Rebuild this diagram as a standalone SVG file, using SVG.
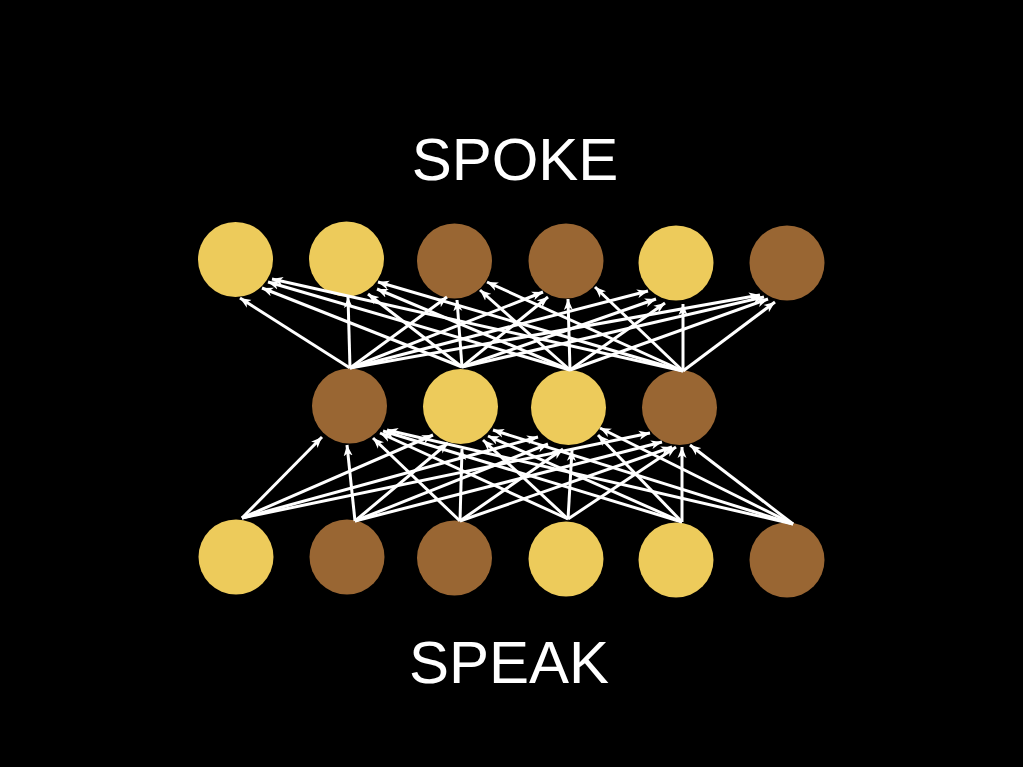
<svg xmlns="http://www.w3.org/2000/svg" width="1023" height="767" viewBox="0 0 1023 767">
<style>
.y{fill:#EDCB5B}
.b{fill:#996633}
.c line{stroke:#FFFFFF;stroke-width:3;marker-end:url(#ah)}
.t{font-family:"Liberation Sans",Arial,sans-serif;font-size:60px;fill:#FFFFFF;text-anchor:middle}
</style>
<defs>
<marker id="ah" markerUnits="userSpaceOnUse" markerWidth="12" markerHeight="10" refX="11" refY="4.5" orient="auto" viewBox="0 0 12 9">
<path d="M0,0 L11,4.5 L0,9 L3,4.5 Z" fill="#FFFFFF"/>
</marker>
</defs>
<rect width="1023" height="767" fill="#000000"/>
<text class="t" x="515" y="180">SPOKE</text>
<text class="t" x="509" y="683">SPEAK</text>
<g id="top-nodes">
<circle id="t1" class="y" cx="235.5" cy="259.5" r="37.5"/>
<circle id="t2" class="y" cx="346.5" cy="259" r="37.5"/>
<circle id="t3" class="b" cx="454.5" cy="261" r="37.5"/>
<circle id="t4" class="b" cx="566" cy="261" r="37.5"/>
<circle id="t5" class="y" cx="676" cy="263" r="37.5"/>
<circle id="t6" class="b" cx="787" cy="263" r="37.5"/>
</g>
<g id="mid-nodes">
<circle id="m1" class="b" cx="349.5" cy="406" r="37.5"/>
<circle id="m2" class="y" cx="460.5" cy="406.5" r="37.5"/>
<circle id="m3" class="y" cx="568.5" cy="407.5" r="37.5"/>
<circle id="m4" class="b" cx="679.5" cy="407.5" r="37.5"/>
</g>
<g id="bottom-nodes">
<circle id="b1" class="y" cx="236" cy="557" r="37.5"/>
<circle id="b2" class="b" cx="347" cy="557" r="37.5"/>
<circle id="b3" class="b" cx="454.5" cy="558" r="37.5"/>
<circle id="b4" class="y" cx="566" cy="559" r="37.5"/>
<circle id="b5" class="y" cx="676" cy="560" r="37.5"/>
<circle id="b6" class="b" cx="787" cy="560" r="37.5"/>
</g>
<g id="connectors" class="c">
<line x1="350" y1="368" x2="240" y2="298"/>
<line x1="462" y1="367" x2="262" y2="288"/>
<line x1="570" y1="370" x2="268" y2="282"/>
<line x1="683" y1="371" x2="272" y2="279"/>
<line x1="350" y1="368" x2="348" y2="297"/>
<line x1="462" y1="367" x2="368" y2="294"/>
<line x1="570" y1="370" x2="377" y2="289"/>
<line x1="683" y1="371" x2="378" y2="282"/>
<line x1="350" y1="368" x2="447" y2="297"/>
<line x1="462" y1="367" x2="457" y2="300"/>
<line x1="570" y1="370" x2="480" y2="290"/>
<line x1="683" y1="371" x2="487" y2="282"/>
<line x1="350" y1="368" x2="543" y2="292"/>
<line x1="462" y1="367" x2="548" y2="297"/>
<line x1="570" y1="370" x2="568" y2="299"/>
<line x1="683" y1="371" x2="595" y2="287"/>
<line x1="350" y1="368" x2="648" y2="291"/>
<line x1="462" y1="367" x2="656" y2="299"/>
<line x1="570" y1="370" x2="665" y2="303"/>
<line x1="683" y1="371" x2="683" y2="304"/>
<line x1="350" y1="368" x2="760" y2="295"/>
<line x1="462" y1="367" x2="764" y2="297"/>
<line x1="570" y1="370" x2="768" y2="299"/>
<line x1="683" y1="371" x2="775" y2="302"/>
<line x1="242" y1="518" x2="322" y2="437"/>
<line x1="355" y1="521" x2="347" y2="445"/>
<line x1="460" y1="521" x2="373" y2="438"/>
<line x1="568" y1="519" x2="380" y2="433"/>
<line x1="682" y1="522" x2="383" y2="431"/>
<line x1="793" y1="524" x2="387" y2="430"/>
<line x1="242" y1="518" x2="433" y2="435"/>
<line x1="355" y1="521" x2="448" y2="443"/>
<line x1="460" y1="521" x2="462" y2="449"/>
<line x1="568" y1="519" x2="483" y2="440"/>
<line x1="682" y1="522" x2="488" y2="436"/>
<line x1="793" y1="524" x2="493" y2="430"/>
<line x1="242" y1="518" x2="538" y2="437"/>
<line x1="355" y1="521" x2="548" y2="444"/>
<line x1="460" y1="521" x2="563" y2="449"/>
<line x1="568" y1="519" x2="572" y2="450"/>
<line x1="682" y1="522" x2="598" y2="435"/>
<line x1="793" y1="524" x2="600" y2="428"/>
<line x1="242" y1="518" x2="650" y2="433"/>
<line x1="355" y1="521" x2="662" y2="442"/>
<line x1="460" y1="521" x2="672" y2="447"/>
<line x1="568" y1="519" x2="676" y2="447"/>
<line x1="682" y1="522" x2="682" y2="447"/>
<line x1="793" y1="524" x2="690" y2="445"/>
</g>
</svg>
